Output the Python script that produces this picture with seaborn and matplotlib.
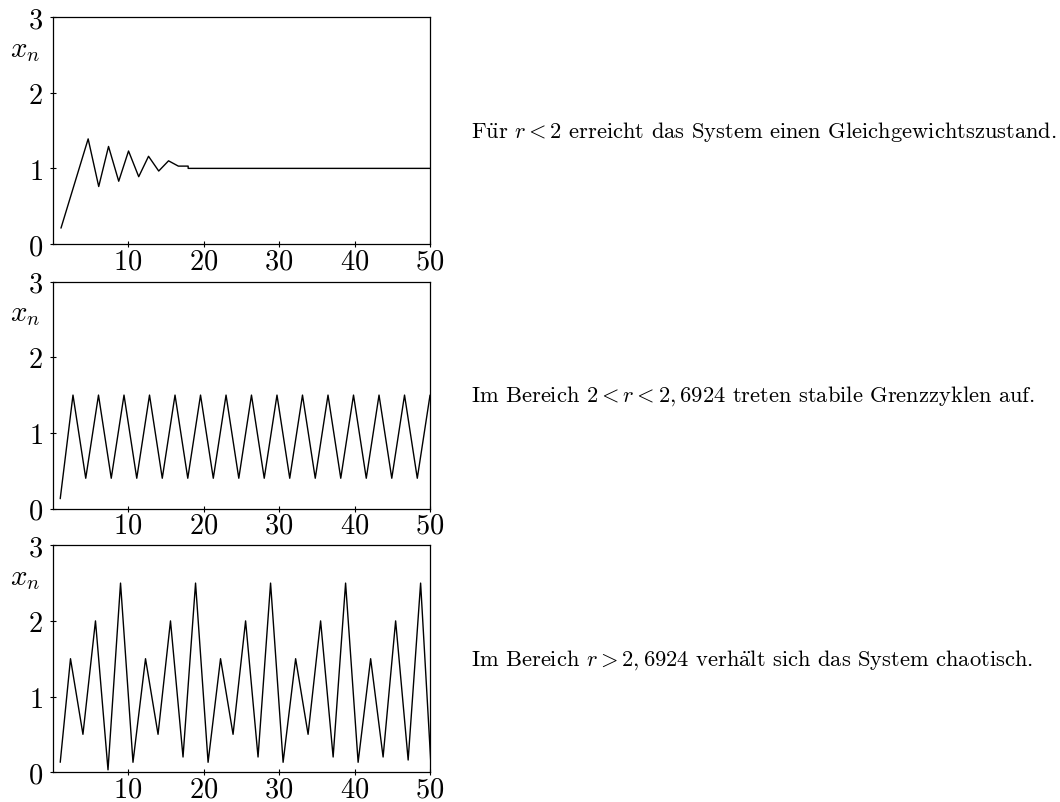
import matplotlib
matplotlib.use('Agg')
import matplotlib.pyplot as plt
import seaborn as sns

# r < 2: damped oscillation into the fixed point
n_stable = [1.1, 4.7, 6.1, 7.4, 8.75, 10.05, 11.4, 12.7, 14.05, 15.35, 16.65, 17.95, 17.95, 50.0]
x_stable = [0.21, 1.39, 0.76, 1.29, 0.83, 1.23, 0.89, 1.16, 0.965, 1.10, 1.03, 1.03, 1.0, 1.0]

# 2 < r < 2,6924: limit cycle
n_cycle = [1.00, 2.69, 4.38, 6.07, 7.76, 9.45, 11.14, 12.83, 14.52, 16.21,
           17.90, 19.59, 21.28, 22.97, 24.66, 26.34, 28.03, 29.72, 31.41, 33.10,
           34.79, 36.48, 38.17, 39.86, 41.55, 43.24, 44.93, 46.62, 48.31, 50.00]
x_cycle = [0.13, 1.5, 0.4, 1.5, 0.4, 1.5, 0.4, 1.5, 0.4, 1.5,
           0.4, 1.5, 0.4, 1.5, 0.4, 1.5, 0.4, 1.5, 0.4, 1.5,
           0.4, 1.5, 0.4, 1.5, 0.4, 1.5, 0.4, 1.5, 0.4, 1.5]

# r > 2,6924: chaotic
n_chaos = [1.00, 2.36, 4.01, 5.67, 7.33, 8.99, 10.64, 12.30, 13.96, 15.61,
           17.27, 18.93, 20.59, 22.24, 23.90, 25.56, 27.21, 28.87, 30.53, 32.19,
           33.84, 35.50, 37.16, 38.81, 40.47, 42.13, 43.78, 45.44, 47.10, 48.75, 50.10]
x_chaos = [0.13, 1.5, 0.5, 2.0, 0.03, 2.5, 0.13, 1.5, 0.5, 2.0,
           0.2, 2.5, 0.13, 1.5, 0.5, 2.0, 0.2, 2.5, 0.13, 1.5,
           0.5, 2.0, 0.2, 2.5, 0.13, 1.5, 0.2, 2.0, 0.16, 2.5, 0.13]

# umlauts via mathtext accents, cmr10 has no ü/ä
captions = [
    r'F$\ddot{\mathrm{u}}$r $r<2$ erreicht das System einen Gleichgewichtszustand.',
    r'Im Bereich $2<r<2,6924$ treten stabile Grenzzyklen auf.',
    r'Im Bereich $r>2,6924$ verh$\ddot{\mathrm{a}}$lt sich das System chaotisch.',
]

xticks = [10, 20, 30, 40, 50]
yticks = [0, 1, 2, 3]

sns.set_theme(style='white')
plt.rcParams['font.family'] = ['cmr10', 'DejaVu Serif']
plt.rcParams['mathtext.fontset'] = 'cm'
plt.rcParams['axes.unicode_minus'] = False
plt.rcParams['axes.formatter.use_mathtext'] = True

fig = plt.figure(figsize=(10.6, 8.03), dpi=100)

panels = [(n_stable, x_stable, 0.6949), (n_cycle, x_cycle, 0.3655), (n_chaos, x_chaos, 0.0372)]
for (n, x, bottom), cap in zip(panels, captions):
    ax = fig.add_axes([0.0497, bottom, 0.356, 0.2825])
    sns.lineplot(x=n, y=x, ax=ax, color='black', linewidth=1.0,
                 sort=False, estimator=None)
    ax.set_xlim(0, 50)
    ax.set_ylim(0, 3)
    ax.set_xticks(xticks)
    ax.set_yticks(yticks)
    ax.tick_params(axis='both', direction='inout', length=4, width=0.8,
                   labelsize=20.5, colors='black', bottom=True, left=True)
    ax.tick_params(axis='x', pad=1)
    ax.tick_params(axis='y', pad=5)
    for s in ax.spines.values():
        s.set_color('black')
        s.set_linewidth(0.9)
    ax.set_ylabel('$x_n$', rotation=0, fontsize=21, color='black')
    ax.yaxis.set_label_coords(-0.072, 0.80)
    fig.text(0.444, bottom + 0.2825 / 2, cap, ha='left', va='center',
             fontsize=16.2, color='black')

fig.savefig('out.png', dpi=100, facecolor='white')
